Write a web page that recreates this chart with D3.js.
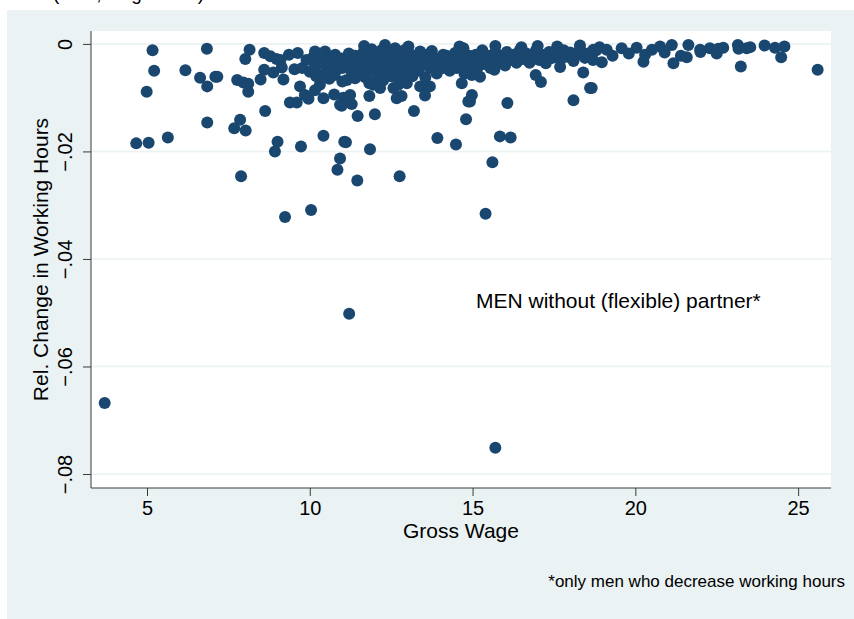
<!DOCTYPE html>
<html>
<head>
<meta charset="utf-8">
<script src="https://cdn.jsdelivr.net/npm/d3@7"></script>
<style>
  html, body { margin: 0; padding: 0; background: #fff; }
  svg { display: block; font-family: "Liberation Sans", Arial, sans-serif; }
</style>
</head>
<body>
<svg id="chart" width="854" height="619"></svg>
<script>
// wage vs. relative change in working hours
// scattered points (left side + the tail below the band)
const scattered = [
  [3.70,-0.0668],[11.21,-0.0502],[15.70,-0.0751],[9.24,-0.0322],[10.04,-0.0309],[15.40,-0.0316],
  [5.17,-0.0012],[6.84,-0.0009],[5.22,-0.0050],[6.18,-0.0049],[6.63,-0.0063],[7.10,-0.0061],
  [6.85,-0.0079],[4.99,-0.0089],[6.85,-0.0146],[4.67,-0.0185],[5.05,-0.0184],[5.64,-0.0174],
  [8.15,-0.0011],[8.02,-0.0028],[8.60,-0.0017],[8.79,-0.0023],[8.98,-0.0028],[9.10,-0.0030],
  [7.16,-0.0061],[7.77,-0.0067],[7.96,-0.0072],[8.11,-0.0074],[8.11,-0.0089],[8.49,-0.0066],
  [8.60,-0.0048],[8.88,-0.0053],[9.14,-0.0044],[9.19,-0.0066],[9.36,-0.0020],[9.63,-0.0017],
  [9.53,-0.0047],[9.77,-0.0045],[9.70,-0.0079],[9.39,-0.0109],[9.60,-0.0109],[9.85,-0.0095],
  [9.96,-0.0102],[10.16,-0.0014],[10.47,-0.0014],[10.78,-0.0020],[10.98,-0.0027],[10.16,-0.0042],
  [10.39,-0.0058],[10.31,-0.0076],[10.16,-0.0086],[10.42,-0.0101],[10.75,-0.0094],[10.93,-0.0113],
  [10.76,-0.0058],[8.63,-0.0125],[7.86,-0.0141],[7.68,-0.0157],[8.03,-0.0161],[9.01,-0.0182],
  [8.93,-0.0200],[9.73,-0.0191],[10.42,-0.0171],[10.93,-0.0213],[10.85,-0.0234],[7.89,-0.0246],
  [11.06,-0.0182],[11.67,-0.0004],[12.31,-0.0002],[12.62,-0.0008],[13.03,-0.0005],[13.39,-0.0014],
  [13.75,-0.0013],[14.10,-0.0020],[14.46,-0.0017],[14.72,-0.0008],[11.14,-0.0067],[11.39,-0.0064],
  [11.83,-0.0073],[11.95,-0.0076],[12.16,-0.0082],[12.57,-0.0082],[12.72,-0.0076],[12.98,-0.0073],
  [13.39,-0.0079],[13.69,-0.0079],[13.54,-0.0096],[14.67,-0.0073],[11.03,-0.0100],[11.24,-0.0095],
  [11.29,-0.0112],[10.98,-0.0115],[11.83,-0.0097],[12.67,-0.0101],[12.82,-0.0097],[11.47,-0.0134],
  [12.00,-0.0131],[13.20,-0.0125],[14.80,-0.0140],[14.87,-0.0107],[11.11,-0.0183],[11.85,-0.0196],
  [13.92,-0.0175],[14.49,-0.0187],[11.46,-0.0254],[12.76,-0.0246],[15.49,-0.0033],[17.69,-0.0043],
  [18.40,-0.0053],[18.61,-0.0082],[18.10,-0.0105],[16.94,-0.0058],[17.10,-0.0071],[16.07,-0.0110],
  [14.98,-0.0095],[14.92,-0.0107],[15.84,-0.0172],[16.17,-0.0174],[15.61,-0.0220],[15.23,-0.0061],
  [15.67,-0.0048],[14.98,-0.0058],[18.97,-0.0034],[20.25,-0.0033],[21.17,-0.0036],[21.58,-0.0025],
  [18.66,-0.0082],[23.24,-0.0042],[24.48,-0.0025],[25.60,-0.0048]
];
// the dense band just under zero
const band = [
  [9.90,-0.0030],[10.00,-0.0052],[10.10,-0.0025],[10.20,-0.0060],[10.30,-0.0035],[10.40,-0.0020],
  [10.50,-0.0045],[10.60,-0.0030],[10.60,-0.0065],[10.70,-0.0038],[10.80,-0.0050],[10.90,-0.0032],
  [11.00,-0.0045],[11.00,-0.0070],[11.10,-0.0030],[11.20,-0.0018],[11.25,-0.0048],[11.30,-0.0036],
  [11.40,-0.0022],[11.45,-0.0055],[11.50,-0.0030],[11.60,-0.0042],[11.65,-0.0015],[11.70,-0.0062],
  [11.80,-0.0028],[11.85,-0.0048],[11.90,-0.0010],[12.00,-0.0035],[12.05,-0.0058],[12.10,-0.0022],
  [12.15,-0.0045],[12.20,-0.0012],[12.25,-0.0068],[12.30,-0.0030],[12.35,-0.0050],[12.40,-0.0020],
  [12.45,-0.0040],[12.50,-0.0060],[12.55,-0.0028],[12.60,-0.0015],[12.65,-0.0045],[12.70,-0.0032],
  [12.75,-0.0065],[12.80,-0.0022],[12.85,-0.0040],[12.90,-0.0012],[12.95,-0.0055],[13.00,-0.0030],
  [13.05,-0.0045],[13.10,-0.0020],[13.15,-0.0060],[13.20,-0.0035],[13.30,-0.0025],[13.35,-0.0050],
  [13.40,-0.0040],[13.50,-0.0030],[13.55,-0.0062],[13.60,-0.0020],[13.70,-0.0045],[13.75,-0.0035],
  [13.80,-0.0025],[13.90,-0.0055],[13.95,-0.0040],[14.00,-0.0028],[14.10,-0.0045],[14.15,-0.0032],
  [14.20,-0.0022],[14.30,-0.0050],[14.35,-0.0038],[14.40,-0.0026],[14.50,-0.0045],[14.55,-0.0030],
  [14.60,-0.0020],[14.70,-0.0042],[14.75,-0.0055],[14.80,-0.0030],[14.90,-0.0022],[14.90,-0.0048],
  [15.00,-0.0035],[15.10,-0.0020],[15.15,-0.0045],[15.25,-0.0028],[15.30,-0.0012],[15.40,-0.0038],
  [15.50,-0.0022],[15.55,-0.0045],[15.65,-0.0030],[15.70,-0.0015],[15.80,-0.0035],[15.90,-0.0025],
  [16.00,-0.0040],[16.05,-0.0015],[16.15,-0.0030],[16.25,-0.0020],[16.35,-0.0035],[16.45,-0.0012],
  [16.55,-0.0028],[16.65,-0.0018],[16.75,-0.0035],[16.85,-0.0022],[16.95,-0.0012],[17.05,-0.0030],
  [17.15,-0.0020],[17.25,-0.0036],[17.35,-0.0015],[17.45,-0.0026],[17.55,-0.0018],[17.70,-0.0030],
  [17.80,-0.0012],[17.90,-0.0024],[18.00,-0.0016],[18.10,-0.0032],[18.20,-0.0020],[18.30,-0.0010],
  [18.45,-0.0026],[18.55,-0.0018],[18.70,-0.0030],[18.80,-0.0012],
  [14.60,-0.0005],[15.70,-0.0004],[16.50,-0.0006],[17.00,-0.0004],[17.60,-0.0005],[18.30,-0.0003],
  [18.90,-0.0006],[18.71,-0.0011],[19.12,-0.0011],[19.58,-0.0008],[20.04,-0.0007],[20.51,-0.0011],
  [20.76,-0.0005],[21.12,-0.0002],[21.63,-0.0002],[21.99,-0.0011],[22.29,-0.0008],[19.30,-0.0022],
  [19.80,-0.0018],[20.30,-0.0020],[20.90,-0.0016],[21.40,-0.0022],[22.00,-0.0015],[22.50,-0.0018],
  [22.55,-0.0009],[22.70,-0.0007],[23.15,-0.0002],[23.17,-0.0009],[23.42,-0.0008],[23.53,-0.0006],
  [23.97,-0.0003],[24.29,-0.0007],[24.58,-0.0005]
];
const xTicks = [5, 10, 15, 20, 25];
const yTicks = [0, -0.02, -0.04, -0.06, -0.08];

const svg = d3.select("#chart");
const W = 854, H = 619;
const plot = { left: 91, right: 831, top: 31, bottom: 488 };
const bg = "#eaf2f3";
const navy = "#1a476f";

// outer graph region
svg.append("rect").attr("x", 7).attr("y", 10).attr("width", W - 7).attr("height", H - 10).attr("fill", bg);
// cut-off text at the very top (only its bottom edge shows)
svg.append("text").attr("x", 53).attr("y", 0).attr("font-size", 19).attr("fill", "#000")
  .text("(men, wages in €)");
// plot region
svg.append("rect")
  .attr("x", plot.left).attr("y", plot.top)
  .attr("width", plot.right - plot.left).attr("height", plot.bottom - plot.top)
  .attr("fill", "#fff");

const x = d3.scaleLinear().domain([3.28, 26.01]).range([plot.left, plot.right]);
const y = d3.scaleLinear().domain([0.0024, -0.0826]).range([plot.top, plot.bottom]);

// grid lines
svg.append("g").selectAll("line").data(yTicks).join("line")
  .attr("x1", plot.left).attr("x2", plot.right)
  .attr("y1", (d) => y(d)).attr("y2", (d) => y(d))
  .attr("stroke", bg).attr("stroke-width", 1.6);

const fmtY = (d) => (d === 0 ? "0" : "\u2212" + d3.format(".2f")(-d).replace(/^0/, ""));

// y axis
const yAxis = svg.append("g")
  .attr("transform", `translate(${plot.left},0)`)
  .call(d3.axisLeft(y).tickValues(yTicks).tickSize(8).tickFormat(fmtY));
yAxis.select(".domain").attr("d", `M0,${plot.top}V${plot.bottom}`).attr("stroke", "#3a3a3a");
yAxis.selectAll(".tick line").attr("stroke", "#3a3a3a");
yAxis.selectAll(".tick text")
  .attr("font-size", 20).attr("font-family", "Liberation Sans, Arial, sans-serif").attr("fill", "#000")
  .attr("text-anchor", "middle").attr("x", 0).attr("dy", 0)
  .attr("transform", "translate(-19,0) rotate(-90)");

// x axis
const xAxis = svg.append("g")
  .attr("transform", `translate(0,${plot.bottom})`)
  .call(d3.axisBottom(x).tickValues(xTicks).tickSize(8).tickFormat(d3.format("d")));
xAxis.select(".domain").attr("d", `M${plot.left},0H${plot.right}`).attr("stroke", "#3a3a3a");
xAxis.selectAll(".tick line").attr("stroke", "#3a3a3a");
xAxis.selectAll(".tick text")
  .attr("font-size", 20).attr("font-family", "Liberation Sans, Arial, sans-serif").attr("fill", "#000")
  .attr("y", 27).attr("dy", 0);

// titles
svg.append("text").attr("x", (plot.left + plot.right) / 2).attr("y", 538)
  .attr("text-anchor", "middle").attr("font-size", 21).text("Gross Wage");
svg.append("text")
  .attr("transform", `translate(48,${(plot.top + plot.bottom) / 2}) rotate(-90)`)
  .attr("text-anchor", "middle").attr("font-size", 21).text("Rel. Change in Working Hours");

// points
svg.append("g").selectAll("circle").data(scattered.concat(band)).join("circle")
  .attr("cx", (d) => x(d[0])).attr("cy", (d) => y(d[1]))
  .attr("r", 6).attr("fill", navy);

// annotation + note
svg.append("text").attr("x", 476).attr("y", 308).attr("font-size", 21)
  .text("MEN without (flexible) partner*");
svg.append("text").attr("x", 845).attr("y", 587).attr("text-anchor", "end").attr("font-size", 17)
  .text("*only men who decrease working hours");
</script>
</body>
</html>
